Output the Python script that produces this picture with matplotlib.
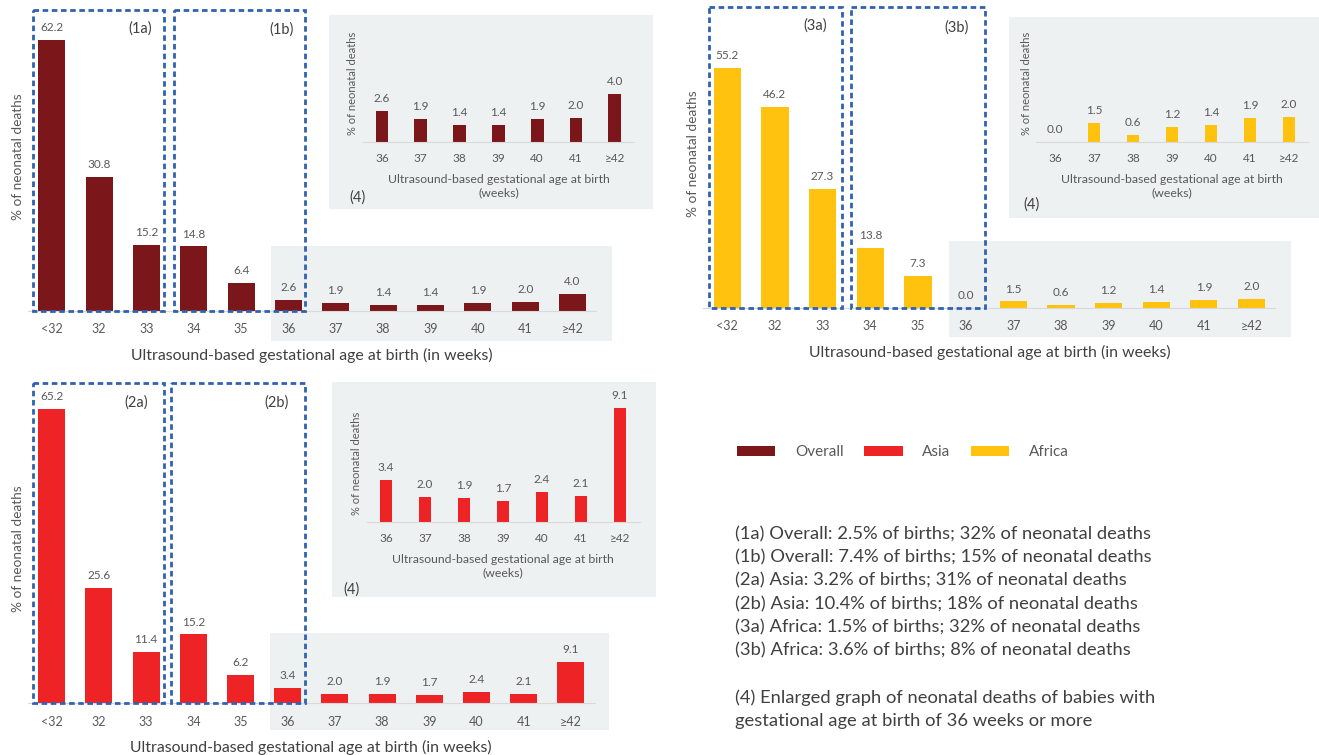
import matplotlib
matplotlib.use('Agg')
import matplotlib.pyplot as plt
from matplotlib.patches import Rectangle

plt.rcParams['font.family'] = ['Lato', 'DejaVu Sans']

W, H = 1319, 755

weeks = ['<32', '32', '33', '34', '35', '36', '37', '38', '39', '40', '41', '≥42']
overall = [62.2, 30.8, 15.2, 14.8, 6.4, 2.6, 1.9, 1.4, 1.4, 1.9, 2.0, 4.0]
asia = [65.2, 25.6, 11.4, 15.2, 6.2, 3.4, 2.0, 1.9, 1.7, 2.4, 2.1, 9.1]
africa = [55.2, 46.2, 27.3, 13.8, 7.3, 0.0, 1.5, 0.6, 1.2, 1.4, 1.9, 2.0]
inset_from = 5  # the enlarged graph (4) starts at 36 weeks

series_names = ['Overall', 'Asia', 'Africa']
panel_tags = [('(1a)', '(1b)'), ('(2a)', '(2b)'), ('(3a)', '(3b)')]

notes = [
    '(1a) Overall: 2.5% of births; 32% of neonatal deaths',
    '(1b) Overall: 7.4% of births; 15% of neonatal deaths',
    '(2a) Asia: 3.2% of births; 31% of neonatal deaths',
    '(2b) Asia: 10.4% of births; 18% of neonatal deaths',
    '(3a) Africa: 1.5% of births; 32% of neonatal deaths',
    '(3b) Africa: 3.6% of births; 8% of neonatal deaths',
    '',
    '(4) Enlarged graph of neonatal deaths of babies with',
    'gestational age at birth of 36 weeks or more',
]

colors = ['#7B161A', '#EE2326', '#FFC20E']
grey_txt = '#595959'
dark_txt = '#404040'
box_blue = '#3062B0'
shade = '#EEF1F1'

# layout in pixels (first bar centre, step, baseline, px per unit, axes top)
main_geo = [(51.7, 47.35, 311, 4.36, 20), (51.7, 47.2, 703, 4.51, 395), (727.3, 47.66, 308, 4.35, 20)]
inset_geo = [(382, 38.8, 142, 12.0, 50), (386, 39.0, 522, 12.5, 400), (1055, 39.0, 142, 12.4, 50)]
main_shade = [(271, 246, 612, 341), (270, 633, 609, 730), (949, 241, 1291, 337)]
inset_shade = [(329, 15, 653, 209), (332, 382, 656, 597), (1009, 17, 1320, 218)]
boxes = [((33, 10, 164, 311), (174, 10, 305, 311)),
         ((33, 383, 164, 703), (171, 383, 305, 703)),
         ((709, 7, 842, 308), (851, 7, 985, 308))]
tag_pos = [((140, 29), (282, 30)), ((136, 403), (277, 403)), ((815, 26), (957, 28))]
four_pos = [(357, 198), (352, 590), (1032, 205)]

fig = plt.figure(figsize=(W / 100, H / 100), dpi=100)

bg = fig.add_axes([0, 0, 1, 1], zorder=0)
bg.set_xlim(0, W); bg.set_ylim(H, 0); bg.axis('off')
ov = fig.add_axes([0, 0, 1, 1], zorder=5)
ov.set_xlim(0, W); ov.set_ylim(H, 0); ov.axis('off'); ov.patch.set_alpha(0)

for (x0, y0, x1, y1) in main_shade + inset_shade:
    bg.add_patch(Rectangle((x0, y0), x1 - x0, y1 - y0, color=shade, lw=0))


def bar_axes(c0, step, n, base, scale, top):
    left = c0 - 0.5 * step
    right = c0 + (n - 0.5) * step
    ax = fig.add_axes([left / W, 1 - base / H, (right - left) / W, (base - top) / H], zorder=2)
    ax.set_facecolor('none')
    ax.set_xlim(-0.5, n - 0.5)
    ax.set_ylim(0, (base - top) / scale)
    for s in ['top', 'right', 'left']:
        ax.spines[s].set_visible(False)
    ax.spines['bottom'].set_color('#D9D9D9')
    ax.set_yticks([])
    ax.tick_params(axis='x', length=0, colors=grey_txt)
    return ax


handles = []
for k, vals in enumerate([overall, asia, africa]):
    c0, step, base, scale, top = main_geo[k]
    ax = bar_axes(c0, step, len(weeks), base, scale, top)
    bars = ax.bar(range(len(weeks)), vals, width=0.57, color=colors[k], label=series_names[k])
    handles.append(bars)
    for i, v in enumerate(vals):
        ax.annotate(f'{v:.1f}', (i, v), xytext=(0, 5), textcoords='offset points',
                    ha='center', va='bottom', fontsize=8.5, color=grey_txt)
    ax.set_xticks(range(len(weeks)), weeks, fontsize=9)
    ax.tick_params(axis='x', pad=9)
    ax.set_xlabel('Ultrasound-based gestational age at birth (in weeks)', fontsize=11.4, color=dark_txt)
    ax.xaxis.set_label_coords(c0 + 5.5 * step, base + 44, transform=ov.transData)
    ax.xaxis.label.set_va('center')
    ax.set_ylabel('% of neonatal deaths', fontsize=9.8, color=grey_txt)
    ax.yaxis.set_label_coords(c0 - 34, base - 154, transform=ov.transData)
    ax.yaxis.label.set_va('center')

    # enlarged graph (4)
    c0, step, base, scale, top = inset_geo[k]
    sub_w = weeks[inset_from:]
    sub_v = vals[inset_from:]
    ia = bar_axes(c0, step, len(sub_w), base, scale, top)
    ia.bar(range(len(sub_w)), sub_v, width=0.33, color=colors[k])
    for i, v in enumerate(sub_v):
        ia.annotate(f'{v:.1f}', (i, v), xytext=(0, 5), textcoords='offset points',
                    ha='center', va='bottom', fontsize=8.5, color=grey_txt)
    ia.set_xticks(range(len(sub_w)), sub_w, fontsize=8.5)
    ia.tick_params(axis='x', pad=8)
    ia.set_xlabel('Ultrasound-based gestational age at birth\n(weeks)', fontsize=8.8,
                  color=grey_txt, linespacing=1.25)
    ia.xaxis.set_label_coords(c0 + 3 * step, base + 44, transform=ov.transData)
    ia.xaxis.label.set_va('center')
    ia.set_ylabel('% of neonatal deaths', fontsize=8, color=grey_txt)
    ia.yaxis.set_label_coords(c0 - 29, base - 59, transform=ov.transData)
    ia.yaxis.label.set_va('center')
    ov.text(*four_pos[k], '(4)', fontsize=10.5, color=dark_txt, ha='center', va='center')

    # dashed highlight boxes
    for (x0, y0, x1, y1), tag, pos in zip(boxes[k], panel_tags[k], tag_pos[k]):
        ov.add_patch(Rectangle((x0, y0), x1 - x0, y1 - y0, fill=False, ec=box_blue,
                               lw=2.0, ls=(0, (2.0, 1.3))))
        ov.text(*pos, tag, fontsize=10.5, color=dark_txt, ha='center', va='center')

fig.legend(handles=handles, loc='center left', bbox_to_anchor=(737 / W, 1 - 452 / H),
           ncol=3, frameon=False, fontsize=11, labelcolor=grey_txt,
           handlelength=2.5, handleheight=0.65, handletextpad=1.3, columnspacing=1.35,
           borderpad=0, borderaxespad=0)

ov.text(735, 526, '\n'.join(notes), fontsize=13.2, color=dark_txt, ha='left', va='top',
        linespacing=1.55)

fig.savefig('out.png', dpi=100)
